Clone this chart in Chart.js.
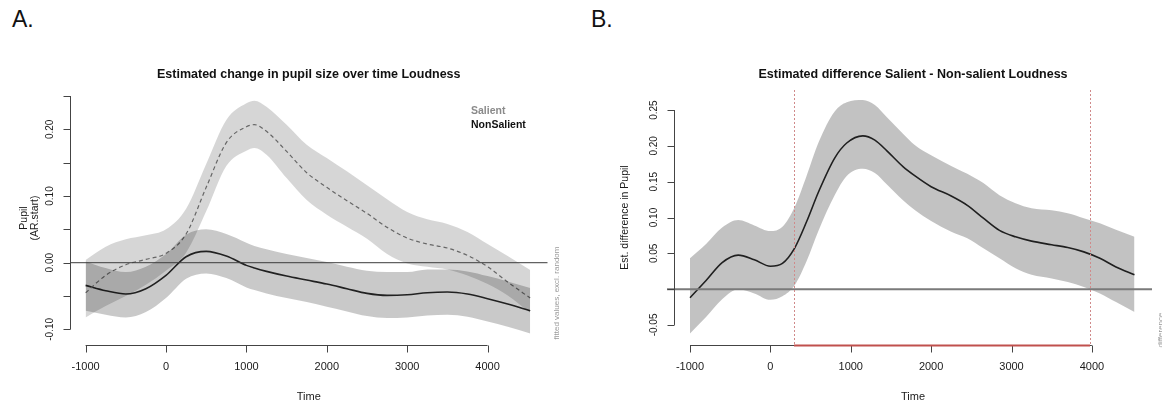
<!DOCTYPE html>
<html>
<head>
<meta charset="utf-8">
<title>Pupil size - Loudness</title>
<script src="https://cdn.jsdelivr.net/npm/chart.js@4.4.1/dist/chart.umd.min.js"></script>
<style>
  html, body { margin: 0; padding: 0; background: #fff; }
  body { width: 1162px; height: 408px; position: relative; overflow: hidden; font-family: "Liberation Sans", Arial, sans-serif; }
  .panel-label { position: absolute; top: 8px; font-size: 23px; line-height: 23px; color: #111; }
  canvas { position: absolute; top: 0; }
</style>
</head>
<body>

<div class="panel-label" style="left:12px">A.</div>
<div class="panel-label" style="left:591px">B.</div>

<canvas id="chartPupil" width="580" height="408" style="left:0"></canvas>
<canvas id="chartDiff" width="582" height="408" style="left:580px"></canvas>

<script>
/* ===================================
   Data
   =================================== */

// Panel A - fitted pupil size per condition (time in ms)
const time = [-1000, -750, -500, -250, 0, 250, 500, 750, 1000, 1100, 1250, 1500, 1750, 2000, 2250, 2500, 2750, 3000, 3250, 3500, 3750, 4000, 4250, 4530];

const salientFit   = [-0.045, -0.019, -0.003, 0.005, 0.014, 0.043, 0.113, 0.180, 0.204, 0.207, 0.197, 0.167, 0.135, 0.113, 0.093, 0.074, 0.053, 0.037, 0.028, 0.022, 0.011, -0.006, -0.029, -0.053];
const salientUpper = [0.004, 0.024, 0.035, 0.041, 0.050, 0.081, 0.148, 0.214, 0.239, 0.243, 0.234, 0.207, 0.177, 0.157, 0.137, 0.116, 0.095, 0.076, 0.065, 0.058, 0.046, 0.028, 0.010, -0.011];
const salientLower = [-0.082, -0.065, -0.050, -0.033, -0.012, 0.015, 0.077, 0.145, 0.168, 0.172, 0.162, 0.127, 0.094, 0.072, 0.054, 0.036, 0.013, -0.001, -0.006, -0.010, -0.019, -0.032, -0.049, -0.075];

const nonSalientFit   = [-0.034, -0.042, -0.047, -0.039, -0.019, 0.009, 0.017, 0.010, -0.004, -0.008, -0.013, -0.020, -0.026, -0.032, -0.039, -0.046, -0.049, -0.048, -0.045, -0.044, -0.047, -0.054, -0.062, -0.072];
const nonSalientUpper = [0.002, -0.008, -0.014, -0.006, 0.013, 0.042, 0.050, 0.043, 0.030, 0.025, 0.020, 0.013, 0.007, 0.001, -0.006, -0.012, -0.014, -0.014, -0.010, -0.010, -0.013, -0.020, -0.028, -0.038];
const nonSalientLower = [-0.072, -0.078, -0.082, -0.074, -0.053, -0.024, -0.016, -0.023, -0.037, -0.041, -0.046, -0.053, -0.059, -0.066, -0.073, -0.080, -0.083, -0.082, -0.079, -0.078, -0.081, -0.088, -0.096, -0.106];

// Panel B - estimated difference Salient - Non-salient
const diffTime  = [-1000, -800, -600, -400, -200, 0, 150, 300, 450, 600, 800, 950, 1150, 1300, 1450, 1650, 1800, 2000, 2250, 2450, 2650, 2850, 3050, 3250, 3500, 3700, 3900, 4100, 4300, 4530];
const diffFit   = [-0.012, 0.012, 0.037, 0.0475, 0.041, 0.032, 0.036, 0.057, 0.094, 0.136, 0.183, 0.204, 0.214, 0.208, 0.193, 0.171, 0.158, 0.143, 0.130, 0.117, 0.099, 0.082, 0.073, 0.067, 0.062, 0.058, 0.052, 0.043, 0.031, 0.020];
const diffUpper = [0.043, 0.063, 0.086, 0.0965, 0.089, 0.081, 0.087, 0.114, 0.158, 0.205, 0.248, 0.261, 0.264, 0.257, 0.240, 0.217, 0.201, 0.187, 0.172, 0.161, 0.148, 0.131, 0.120, 0.113, 0.110, 0.106, 0.099, 0.092, 0.083, 0.073];
const diffLower = [-0.062, -0.039, -0.014, 0.000, -0.006, -0.015, -0.010, 0.005, 0.039, 0.082, 0.131, 0.158, 0.168, 0.162, 0.146, 0.124, 0.110, 0.095, 0.080, 0.071, 0.057, 0.043, 0.029, 0.020, 0.015, 0.010, 0.003, -0.006, -0.018, -0.032];

// Significant window (red marks) in panel B
const sigRegion = [294, 3977];

// Tick values
const xTicks      = [-1000, 0, 1000, 2000, 3000, 4000];
const yTicksA     = [-0.10, -0.05, 0.00, 0.05, 0.10, 0.15, 0.20, 0.25];
const yLabelsA    = [-0.10, 0.00, 0.10, 0.20];
const yTicksB     = [-0.05, 0.00, 0.05, 0.10, 0.15, 0.20, 0.25];
const yLabelsB    = [-0.05, 0.05, 0.10, 0.15, 0.20, 0.25];


// helpers
function pts(xs, ys) {
  return xs.map((x, i) => ({ x: x, y: ys[i] }));
}

function band(xs, upper, lower, color) {
  return [
    { data: pts(xs, upper), borderColor: 'rgba(0,0,0,0)', borderWidth: 0, pointRadius: 0, fill: false },
    { data: pts(xs, lower), borderColor: 'rgba(0,0,0,0)', borderWidth: 0, pointRadius: 0, fill: '-1', backgroundColor: color }
  ];
}

function rotatedText(ctx, text, x, y) {
  ctx.save();
  ctx.translate(x, y);
  ctx.rotate(-Math.PI / 2);
  ctx.fillText(text, 0, 0);
  ctx.restore();
}

const FONT = '"Liberation Sans", Arial, sans-serif';


/* ===================================
   R-style axes, titles and reference lines
   =================================== */
const rAxes = {
  id: 'rAxes',
  afterDatasetsDraw(chart, args, o) {
    const ctx = chart.ctx;
    const a = chart.chartArea;
    const x = chart.scales.x;
    const y = chart.scales.y;
    const midX = (a.left + a.right) / 2;
    const midY = (a.top + a.bottom) / 2;

    ctx.save();

    // horizontal zero line
    const y0 = y.getPixelForValue(0);
    ctx.strokeStyle = o.zeroColor;
    ctx.lineWidth = o.zeroWidth;
    ctx.beginPath();
    ctx.moveTo(a.left - o.zeroExtend, y0);
    ctx.lineTo(a.right, y0);
    ctx.stroke();

    // significant window
    if (o.sig) {
      ctx.strokeStyle = '#d08a8a';
      ctx.lineWidth = 1;
      ctx.setLineDash([2, 2]);
      o.sig.forEach(v => {
        const px = Math.round(x.getPixelForValue(v)) + 0.5;
        ctx.beginPath();
        ctx.moveTo(px, a.top);
        ctx.lineTo(px, a.bottom);
        ctx.stroke();
      });
      ctx.setLineDash([]);
    }

    // x axis
    ctx.strokeStyle = '#444';
    ctx.lineWidth = 1;
    const xb = Math.round(a.bottom) + 0.5;
    ctx.beginPath();
    ctx.moveTo(x.getPixelForValue(o.xTicks[0]), xb);
    ctx.lineTo(x.getPixelForValue(o.xTicks[o.xTicks.length - 1]), xb);
    o.xTicks.forEach(v => {
      const px = Math.round(x.getPixelForValue(v)) + 0.5;
      ctx.moveTo(px, xb);
      ctx.lineTo(px, xb + 7);
    });
    ctx.stroke();

    if (o.sig) {
      ctx.strokeStyle = '#c0504d';
      ctx.lineWidth = 2;
      ctx.beginPath();
      ctx.moveTo(x.getPixelForValue(o.sig[0]), xb);
      ctx.lineTo(x.getPixelForValue(o.sig[1]), xb);
      ctx.stroke();
    }

    ctx.fillStyle = '#1a1a1a';
    ctx.font = '11px ' + FONT;
    ctx.textAlign = 'center';
    ctx.textBaseline = 'middle';
    o.xTicks.forEach(v => ctx.fillText(String(v), x.getPixelForValue(v), a.bottom + 22));
    ctx.fillText('Time', midX, a.bottom + 52);

    // y axis
    ctx.strokeStyle = '#444';
    ctx.lineWidth = 1;
    const yl = Math.round(a.left + o.yAxisShift) + 0.5;
    ctx.beginPath();
    ctx.moveTo(yl, y.getPixelForValue(o.yTicks[0]));
    ctx.lineTo(yl, y.getPixelForValue(o.yTicks[o.yTicks.length - 1]));
    o.yTicks.forEach(v => {
      const py = Math.round(y.getPixelForValue(v)) + 0.5;
      ctx.moveTo(yl, py);
      ctx.lineTo(yl - 7, py);
    });
    ctx.stroke();

    ctx.font = '10px ' + FONT;
    o.yLabels.forEach(v => rotatedText(ctx, v.toFixed(2), yl - 20, y.getPixelForValue(v)));

    ctx.font = '10.5px ' + FONT;
    o.yTitle.forEach(t => rotatedText(ctx, t.text, yl - t.offset, midY));

    // side note
    ctx.fillStyle = '#9a9a9a';
    ctx.font = '8px ' + FONT;
    rotatedText(ctx, o.note.text, o.note.x, o.note.y);

    // main title
    ctx.fillStyle = '#111';
    ctx.font = 'bold 12.5px ' + FONT;
    ctx.fillText(o.title, midX, 75);

    // legend
    if (o.legend) {
      ctx.textAlign = 'left';
      ctx.font = 'bold 10.5px ' + FONT;
      o.legend.forEach(l => {
        ctx.fillStyle = l.color;
        ctx.fillText(l.text, l.x, l.y);
      });
    }

    ctx.restore();
  }
};


/* ===================================
   Panel A - Estimated change in pupil size
   =================================== */
new Chart(document.getElementById('chartPupil').getContext('2d'), {
  type: 'line',
  data: {
    datasets: [
      ...band(time, salientUpper, salientLower, 'rgba(0,0,0,0.16)'),
      ...band(time, nonSalientUpper, nonSalientLower, 'rgba(0,0,0,0.21)'),
      {
        label: 'Salient',
        data: pts(time, salientFit),
        borderColor: '#7a7a7a',
        borderWidth: 1.2,
        borderDash: [4, 3],
        pointRadius: 0,
        fill: false
      },
      {
        label: 'NonSalient',
        data: pts(time, nonSalientFit),
        borderColor: '#2b2b2b',
        borderWidth: 1.6,
        pointRadius: 0,
        fill: false
      }
    ]
  },
  plugins: [rAxes],
  options: {
    responsive: false,
    animation: false,
    events: [],
    layout: { padding: { left: 70, right: 32.5, top: 91, bottom: 63 } },
    elements: { line: { cubicInterpolationMode: 'monotone' } },
    scales: {
      x: { type: 'linear', display: false, min: -1194, max: 4745 },
      y: { type: 'linear', display: false, min: -0.1234, max: 0.2575 }
    },
    plugins: {
      legend: { display: false },
      tooltip: { enabled: false },
      rAxes: {
        title: 'Estimated change in pupil size over time Loudness',
        xTicks: xTicks,
        yTicks: yTicksA,
        yLabels: yLabelsA,
        yAxisShift: 0,
        yTitle: [{ text: 'Pupil', offset: 46 }, { text: '(AR.start)', offset: 35 }],
        zeroColor: '#3a3a3a',
        zeroWidth: 1,
        zeroExtend: 0,
        note: { text: 'fitted values, excl. random', x: 557, y: 293 },
        legend: [
          { text: 'Salient', color: '#8a8a8a', x: 471, y: 111 },
          { text: 'NonSalient', color: '#111', x: 471, y: 125 }
        ]
      }
    }
  }
});


/* ===================================
   Panel B - Estimated difference
   =================================== */
new Chart(document.getElementById('chartDiff').getContext('2d'), {
  type: 'line',
  data: {
    datasets: [
      ...band(diffTime, diffUpper, diffLower, 'rgba(0,0,0,0.24)'),
      {
        label: 'Difference',
        data: pts(diffTime, diffFit),
        borderColor: '#2a2a2a',
        borderWidth: 1.6,
        pointRadius: 0,
        fill: false
      }
    ]
  },
  plugins: [rAxes],
  options: {
    responsive: false,
    animation: false,
    events: [],
    layout: { padding: { left: 94, right: 10, top: 90, bottom: 63 } },
    elements: { line: { cubicInterpolationMode: 'monotone' } },
    scales: {
      x: { type: 'linear', display: false, min: -1199, max: 4748 },
      y: { type: 'linear', display: false, min: -0.078, max: 0.278 }
    },
    plugins: {
      legend: { display: false },
      tooltip: { enabled: false },
      rAxes: {
        title: 'Estimated difference Salient - Non-salient Loudness',
        xTicks: xTicks,
        yTicks: yTicksB,
        yLabels: yLabelsB,
        yAxisShift: 0,
        yTitle: [{ text: 'Est. difference in Pupil', offset: 49 }],
        zeroColor: '#7a7a7a',
        zeroWidth: 2,
        zeroExtend: 7,
        sig: sigRegion,
        note: { text: 'difference', x: 581, y: 330 }
      }
    }
  }
});
</script>
</body>
</html>
